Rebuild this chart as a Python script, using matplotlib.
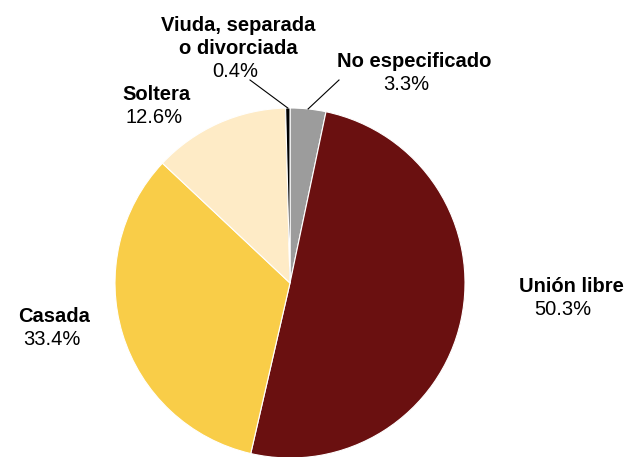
import matplotlib
matplotlib.use("Agg")
import matplotlib.pyplot as plt
import numpy as np

# data, in drawing order (clockwise from the top)
categories = ["No especificado", "Unión libre", "Casada", "Soltera",
              "Viuda, separada\no divorciada"]
shares = [3.3, 50.3, 33.4, 12.6, 0.4]
colors = ["#9c9c9c", "#6a1010", "#f9cd48", "#feebc6", "#000000"]

plt.rcParams["font.family"] = ["Liberation Sans", "DejaVu Sans"]

fig = plt.figure(figsize=(6.29, 4.57), dpi=100)
ax = fig.add_axes([0, 0, 1, 1])

wedges, _ = ax.pie(shares, colors=colors, startangle=90, counterclock=False,
                   center=(290, 174), radius=175, frame=True,
                   wedgeprops=dict(edgecolor="white", linewidth=0.8))
ax.set_xlim(0, 629)
ax.set_ylim(0, 457)
ax.set_aspect("equal")
ax.axis("off")

# label layout: (x, baseline of first line) in pixel-like coords, y up
label_pos = {
    "No especificado": (414, 390),
    "Unión libre": (571, 165),
    "Casada": (54, 135),
    "Soltera": (156, 357),
    "Viuda, separada\no divorciada": (238, 426),
}
pct_dx = {"No especificado": -8, "Unión libre": -8, "Casada": -2,
          "Soltera": -2, "Viuda, separada\no divorciada": -3}
line_h = 23
fs = 14.5

for name, val, w in zip(categories, shares, wedges):
    x, y = label_pos[name]
    lines = name.split("\n")
    for i, ln in enumerate(lines):
        ax.text(x, y - i * line_h, ln, ha="center", va="baseline",
                fontsize=fs, fontweight="bold", color="black")
    ax.text(x + pct_dx[name], y - len(lines) * line_h, f"{val:.1f}%",
            ha="center", va="baseline", fontsize=fs, color="black")

# leader lines for the two thin slices
leader_end = {"No especificado": (339, 377),
              "Viuda, separada\no divorciada": (250, 377)}
for name, w in zip(categories, wedges):
    if name in leader_end:
        ang = np.deg2rad((w.theta1 + w.theta2) / 2)
        px = w.center[0] + w.r * np.cos(ang)
        py = w.center[1] + w.r * np.sin(ang)
        ex, ey = leader_end[name]
        ax.plot([px, ex], [py, ey], color="black", linewidth=0.8)

fig.savefig("out.png", dpi=100)
